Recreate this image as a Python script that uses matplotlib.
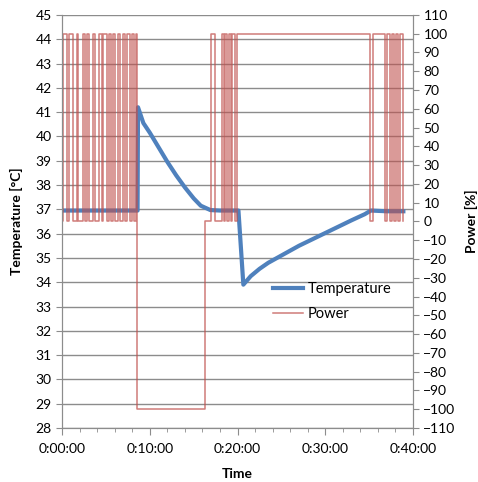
import matplotlib
matplotlib.use("Agg")
import matplotlib.pyplot as plt
from matplotlib.ticker import MultipleLocator, FuncFormatter

plt.rcParams["font.family"] = ["Lato", "DejaVu Sans"]

# temperature (deg C) vs time (minutes)
temp_times = [0.0, 2.0, 4.0, 6.0, 8.6, 8.65, 9.26, 10.0, 11.0, 12.0, 13.0,
              14.0, 15.0, 15.8, 16.9, 18.0, 20.1, 20.66, 21.5, 22.5, 23.5,
              25.0, 27.0, 29.0, 31.0, 33.0, 34.5, 35.2, 37.0, 38.9]
temp_values = [36.95, 36.95, 36.95, 36.95, 36.95, 41.2, 40.55, 40.15, 39.55,
               38.95, 38.4, 37.9, 37.45, 37.15, 36.97, 36.95, 36.95, 33.9,
               34.25, 34.55, 34.8, 35.1, 35.5, 35.85, 36.2, 36.55, 36.8,
               36.95, 36.92, 36.92]

# heater power (%) switching edges, value holds until next time
power_times = [0.0, 0.08, 0.6, 0.83, 1.22, 1.67, 1.86, 2.43, 2.66, 2.82, 3.11,
               3.5, 3.76, 4.25, 4.52, 4.71, 5.09, 5.36, 5.62, 5.85, 6.08, 6.42,
               6.61, 6.99, 7.18, 7.44, 7.75, 7.98, 8.21, 8.43, 8.58, 16.3,
               16.94, 17.44, 18.2, 18.4, 18.6, 18.8, 19.0, 19.2, 19.4, 19.7,
               19.9, 35.1, 35.4, 36.8, 37.0, 37.38, 37.57, 37.83, 38.06, 38.32,
               38.52, 38.82]
power_values = [0, 100, 0, 100, 0, 100, 0, 100, 0, 100, 0,
                100, 0, 100, 0, 100, 0, 100, 0, 100, 0, 100,
                0, 100, 0, 100, 0, 100, 0, 100, -100, 0,
                100, 0, 100, 0, 100, 0, 100, 0, 100, 0,
                100, 0, 100, 0, 100, 0, 100, 0, 100, 0,
                100, 0]

fig = plt.figure(figsize=(4.78, 4.82), dpi=100)
ax = fig.add_axes([0.13, 0.112, 0.734, 0.857])
ax2 = ax.twinx()

temp_line, = ax.plot(temp_times, temp_values, color="#4f81bd", linewidth=3,
                     solid_joinstyle="round", label="Temperature")
power_line, = ax2.step(power_times, power_values, where="post",
                       color="#c0504d", alpha=0.75, linewidth=1.1, label="Power")

ax.set_xlim(0, 40)
ax.set_ylim(28, 45)
ax2.set_ylim(-110, 110)

ax.xaxis.set_major_locator(MultipleLocator(10))
ax.xaxis.set_minor_locator(MultipleLocator(2))
ax.xaxis.set_major_formatter(FuncFormatter(lambda v, p: f"0:{int(v):02d}:00"))
ax.yaxis.set_major_locator(MultipleLocator(1))
ax2.yaxis.set_major_locator(MultipleLocator(10))

ax.grid(axis="y", color="#8c8c8c", linewidth=1)
ax.set_axisbelow(True)

for a in (ax, ax2):
    a.spines["top"].set_visible(False)
    for side in ("left", "right", "bottom"):
        a.spines[side].set_color("#8c8c8c")
    a.tick_params(colors="#8c8c8c", labelcolor="black", labelsize=10,
                  which="both", direction="out")
ax.tick_params(axis="x", which="major", length=5, pad=6)
ax.tick_params(axis="x", which="minor", length=3)
ax.tick_params(axis="y", length=4)
ax2.tick_params(axis="y", length=4)

ax.set_xlabel("Time", fontweight="bold", fontsize=10, labelpad=9)
ax.set_ylabel("Temperature [°C]", fontweight="bold", fontsize=10, labelpad=9)
ax2.set_ylabel("Power [%]", fontweight="bold", fontsize=10, labelpad=7)

ax2.legend([temp_line, power_line], ["Temperature", "Power"],
           loc="upper left", bbox_to_anchor=(0.563, 0.385), frameon=False,
           fontsize=10.5, handlelength=2.1, handletextpad=0.3,
           labelspacing=0.75)

fig.savefig("out.png", dpi=100)
